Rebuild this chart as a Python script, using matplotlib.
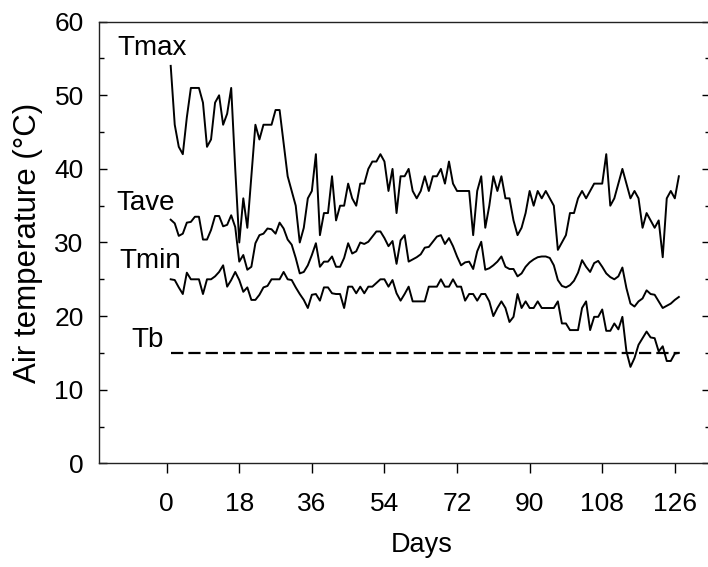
import matplotlib
matplotlib.use("Agg")
import matplotlib.pyplot as plt
from matplotlib.ticker import MultipleLocator

plt.rcParams['font.family'] = ['Liberation Sans', 'DejaVu Sans']

days = list(range(1, 128))

tmax = [54, 46, 43, 42, 47, 51, 51, 51, 49, 43, 44, 49, 50, 46, 47.5, 51, 40, 30, 36, 32,
        39, 46, 44, 46, 46, 46, 48, 48, 43.5, 39, 37, 35, 30, 32, 36, 37, 42, 31, 34, 34,
        39, 33, 35, 35, 38, 36, 35, 38, 38, 40, 41, 41, 42, 41, 37, 40, 34, 39, 39, 40,
        37, 36, 37, 39, 37, 39, 39, 40, 38, 41, 38, 37, 37, 37, 37, 31, 37, 39, 32, 35,
        39, 37, 39, 36, 36, 33, 31, 32, 34, 37, 35, 37, 36, 37, 36, 35, 29, 30, 31, 34,
        34, 36, 37, 36, 37, 38, 38, 38, 42, 35, 36, 38, 40, 38, 36, 37, 36, 32, 34, 33,
        32, 33, 28, 36, 37, 36, 39]

tave = [33.1, 32.6, 30.9, 31.2, 32.7, 32.8, 33.5, 33.5, 30.4, 30.4, 31.7, 33.6, 33.6, 32.2,
        32.4, 33.7, 32.1, 27.4, 28.3, 26.3, 26.7, 29.9, 31.0, 31.2, 31.9, 31.8, 31.2, 32.7,
        31.9, 30.4, 29.7, 27.9, 25.8, 26.0, 26.9, 28.3, 29.9, 26.7, 27.4, 27.4, 28.1, 26.7,
        26.7, 27.9, 29.9, 28.5, 28.8, 30.0, 29.8, 30.1, 30.8, 31.5, 31.5, 30.6, 29.5, 30.2,
        27.1, 30.3, 31.0, 27.4, 27.7, 28.0, 28.4, 29.3, 29.4, 30.1, 30.8, 31.0, 29.8, 30.6,
        29.5, 28.1, 26.9, 27.3, 27.4, 26.4, 28.8, 30.1, 26.3, 26.5, 26.9, 27.4, 28.1, 26.7,
        26.4, 26.4, 25.4, 25.8, 26.7, 27.3, 27.7, 28.0, 28.1, 28.1, 27.9, 26.9, 24.9, 24.1,
        23.9, 24.2, 24.8, 25.9, 27.6, 26.7, 26.0, 27.2, 27.5, 26.7, 25.8, 25.3, 25.0, 25.4,
        26.6, 23.8, 21.7, 21.3, 22.0, 22.4, 23.5, 23.0, 22.9, 22.0, 21.1, 21.4, 21.7, 22.2,
        22.6]

tmin = [25, 24.9, 23.9, 23, 25.9, 25, 25, 25, 23, 25, 25, 25.4, 26, 26.9, 24, 24.9, 26,
        24.9, 23.3, 23.9, 22.2, 22.2, 22.9, 23.9, 24.1, 25, 25, 25, 26, 25, 24.9, 23.9, 23,
        22.2, 21.1, 22.9, 23, 22.1, 23.9, 23.9, 23.1, 23, 23, 21.1, 24, 24, 23.1, 24, 23.1,
        24, 24, 24.5, 25, 25, 24, 24.9, 23.1, 22.1, 23, 24, 22, 22, 22, 22, 24, 24, 24, 25,
        24, 24, 25, 24, 24, 22.1, 23, 23, 22.1, 23, 23, 22, 20, 21.1, 22, 21.1, 19.2, 19.9,
        23, 21.1, 22, 21.1, 21.1, 22, 21.1, 21.1, 21.1, 21.1, 22, 19, 19, 18.1, 18.1, 18.1,
        21.1, 22, 18.1, 19.9, 19.9, 20.9, 18, 18, 19, 18.2, 19.9, 15.2, 13.1, 14.3, 16.1,
        17, 17.9, 17.1, 17, 15.2, 15.9, 13.9, 13.9, 14.9, 15]

tb_value = 15
tb_days = [1, 127]

xticks = [0, 18, 36, 54, 72, 90, 108, 126]
yticks = [0, 10, 20, 30, 40, 50, 60]

fig = plt.figure(figsize=(7.08, 5.67), dpi=100)
ax = fig.add_axes([99 / 708, 103.7 / 567, (709.5 - 99) / 708, (463.3 - 21.7) / 567])

lw = 1.4
ax.plot(days, tmax, color='black', lw=lw)
ax.plot(days, tave, color='black', lw=lw)
ax.plot(days, tmin, color='black', lw=lw)
ax.plot(tb_days, [tb_value, tb_value], color='black', lw=1.6, dashes=(5.5, 2.3))

ax.set_xlim(-16.78, 134.6)
ax.set_ylim(0, 60)
ax.set_xticks(xticks)
ax.set_yticks(yticks)
ax.yaxis.set_minor_locator(MultipleLocator(5))

ax.tick_params(axis='x', which='major', direction='out', length=7, width=1.0,
               labelsize=19, pad=14, top=False)
ax.tick_params(axis='y', which='major', direction='in', length=6, width=1.0,
               labelsize=19, pad=11, right=True)
ax.tick_params(axis='y', which='minor', direction='in', length=3.5, width=1.0, right=True)

for s in ax.spines.values():
    s.set_linewidth(1.0)
    s.set_color('#222222')

ax.set_xlabel('Days', fontsize=19.5)
ax.xaxis.set_label_coords((422 - 99) / 610.5, -(545 - 463.3) / 441.6)
ax.xaxis.label.set_va('center')
ax.set_ylabel('Air temperature (\u00b0C)', fontsize=22.5)
ax.yaxis.set_label_coords(-(99 - 28) / 610.5, 0.5)
ax.yaxis.label.set_va('center')

tfs = 20
ax.text(-12.1, 55.5, 'Tmax', fontsize=tfs, ha='left', va='baseline')
ax.text(-12.4, 34.4, 'Tave', fontsize=tfs, ha='left', va='baseline')
ax.text(-11.8, 26.5, 'Tmin', fontsize=tfs, ha='left', va='baseline')
ax.text(-8.7, 15.8, 'Tb', fontsize=tfs, ha='left', va='baseline')

fig.savefig('out.png', dpi=100)
